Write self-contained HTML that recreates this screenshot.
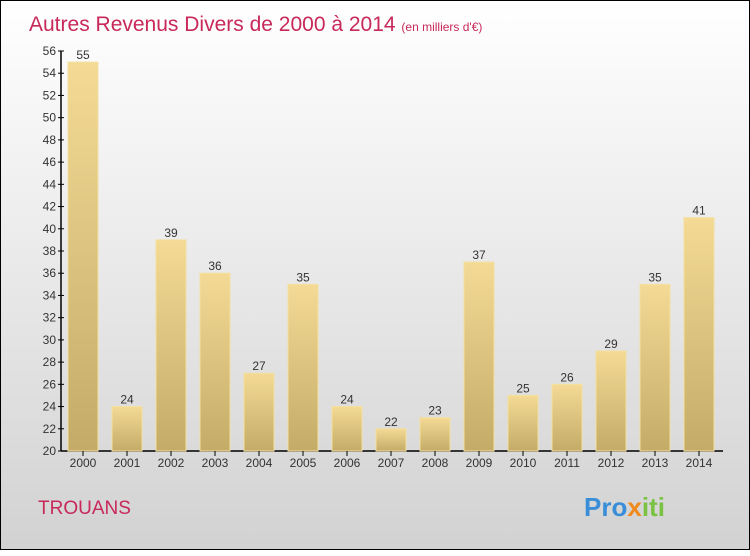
<!DOCTYPE html>
<html><head><meta charset="utf-8"><style>
body{margin:0;width:750px;height:550px;overflow:hidden}
#c{position:absolute;left:0;top:0;width:748px;height:548px;border:1px solid #000;background:linear-gradient(#fff,#d2d2d2)}
text{font-family:"Liberation Sans",sans-serif}
</style></head><body>
<div id="c">
<svg width="750" height="550" id="svg">
<defs><linearGradient id="g" x1="0" y1="0" x2="0" y2="1"><stop offset="0" stop-color="#f4da94"/><stop offset="1" stop-color="#c4ab68"/></linearGradient></defs>
<text x="28" y="30" font-size="21" fill="#c8285a">Autres Revenus Divers de 2000 à 2014 <tspan font-size="12">(en milliers d'€)</tspan></text>
<text x="37" y="513" font-size="19" fill="#c8285a">TROUANS</text>
<text x="583" y="515" font-size="26" font-weight="bold"><tspan fill="#3a8ed8">Pro</tspan><tspan fill="#f08a1c">x</tspan><tspan fill="#7cc242">iti</tspan></text>
<g id="plot"></g>
</svg></div>
<script>
const categories=["2000","2001","2002","2003","2004","2005","2006","2007","2008","2009","2010","2011","2012","2013","2014"];
const values=[55,24,39,36,27,35,24,22,23,37,25,26,29,35,41];
const yTicks=[20,22,24,26,28,30,32,34,36,38,40,42,44,46,48,50,52,54,56];
const NS="http://www.w3.org/2000/svg";
const p=document.getElementById('plot');
const y=v=>450-(v-20)*400/36;
const x=i=>82+i*44;
function mk(t,a){const e=document.createElementNS(NS,t);for(const k in a)e.setAttribute(k,a[k]);p.appendChild(e);return e;}
let ax=mk('line',{x1:60,y1:50,x2:60,y2:450,stroke:'#000','stroke-width':1.5});


let bx=mk('line',{x1:60,y1:450,x2:722,y2:450,stroke:'#000','stroke-width':1.5});


yTicks.forEach(v=>{
 const tk=mk('line',{x1:57,x2:63,y1:y(v),y2:y(v),stroke:'#000'});
 
 
 const t=mk('text',{x:55,y:y(v)+4,'font-size':12,'text-anchor':'end',fill:'#333'});
 t.textContent=v;
 
 
});
categories.forEach((c,i)=>{
 const r=mk('rect',{x:x(i)-15,y:y(values[i]),width:30,height:450-y(values[i]),fill:'url(#g)',stroke:'#f3e0a0','stroke-width':1});
 
 
 const tk=mk('line',{x1:x(i),x2:x(i),y1:450,y2:455,stroke:'#000'});
 
 
 const t=mk('text',{x:x(i),y:466,'font-size':12,'text-anchor':'middle',fill:'#333'});
 t.textContent=c;
 
 
 const v=mk('text',{x:x(i),y:y(values[i])-3,'font-size':12,'text-anchor':'middle',fill:'#333'});
 v.textContent=values[i];
 
 
});
</script>
</body></html>
